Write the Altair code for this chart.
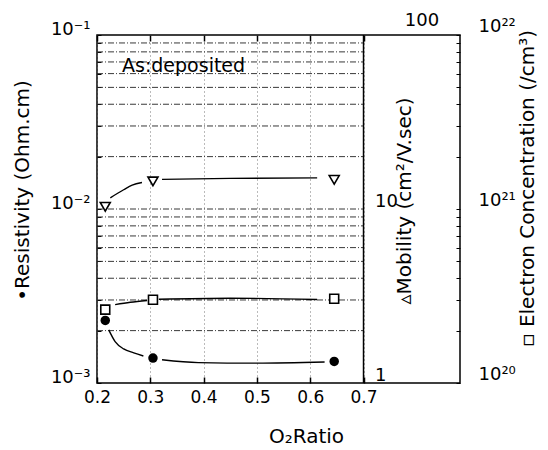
import altair as alt
import pandas as pd

# ---------------- data ----------------
o2_ratio = [0.2155, 0.305, 0.645]
resistivity = [2.29e-3, 1.39e-3, 1.33e-3]      # Ohm.cm
mobility = [10.3, 14.4, 14.7]                  # cm2/V.sec
concentration = [2.64e20, 3.01e20, 3.05e20]    # /cm3

# hand-drawn fit curves (two segments each)
rho_fit1_x = [0.222, 0.234, 0.250, 0.269, 0.287]
rho_fit1_y = [2.02e-3, 1.73e-3, 1.57e-3, 1.49e-3, 1.43e-3]
rho_fit2_x = [0.322, 0.39, 0.50, 0.627]
rho_fit2_y = [1.36e-3, 1.31e-3, 1.30e-3, 1.32e-3]

mob_fit1_x = [0.225, 0.25, 0.266, 0.2844]
mob_fit1_y = [11.6, 12.9, 13.7, 14.2]
mob_fit2_x = [0.322, 0.45, 0.613]
mob_fit2_y = [14.8, 15.0, 15.1]

conc_fit1_x = [0.234, 0.2625, 0.294]
conc_fit1_y = [2.82e20, 2.91e20, 2.98e20]
conc_fit2_x = [0.316, 0.45, 0.613]
conc_fit2_y = [3.03e20, 3.07e20, 3.02e20]

x_ticks = [0.2, 0.3, 0.4, 0.5, 0.6, 0.7]
log_ticks = [0.001, 0.002, 0.003, 0.004, 0.005, 0.006, 0.007, 0.008, 0.009,
             0.01, 0.02, 0.03, 0.04, 0.05, 0.06, 0.07, 0.08, 0.09, 0.1]
grid_levels = [0.002, 0.003, 0.004, 0.005, 0.006, 0.007, 0.008, 0.009,
               0.01, 0.02, 0.03, 0.04, 0.05, 0.06, 0.07, 0.08, 0.09]
mobility_top_label = ["100"]
mobility_top_value = [100]
mobility_labels = ["10", "1"]
mobility_label_values = [10, 1]

# all three log axes share the same decade positions
MOB_TO_AXIS = 1e-3     # mobility 1   -> 1e-3 on the resistivity scale
CONC_TO_AXIS = 1e-23   # conc.   1e20 -> 1e-3 on the resistivity scale

FONT = "DejaVu Sans"
W, H = 363, 348
X_MAX = 0.881   # right edge of the mobility box

xscale = alt.Scale(domain=[0.2, X_MAX], nice=False, zero=False)
yscale = alt.Scale(type="log", domain=[1e-3, 1e-1], nice=False)

# ---------------- tables ----------------
grid_df = pd.DataFrame({"level": grid_levels, "x0": 0.2, "x1": 0.7})
one_row = pd.DataFrame({"k": [0]})

pts = pd.DataFrame({
    "x": o2_ratio * 3,
    "y": resistivity + [m * MOB_TO_AXIS for m in mobility] + [c * CONC_TO_AXIS for c in concentration],
    "series": ["rho"] * 3 + ["mob"] * 3 + ["conc"] * 3,
})

curve_rows = []
for name, xs, ys, f in [
    ("rho1", rho_fit1_x, rho_fit1_y, 1.0), ("rho2", rho_fit2_x, rho_fit2_y, 1.0),
    ("mob1", mob_fit1_x, mob_fit1_y, MOB_TO_AXIS), ("mob2", mob_fit2_x, mob_fit2_y, MOB_TO_AXIS),
    ("conc1", conc_fit1_x, conc_fit1_y, CONC_TO_AXIS), ("conc2", conc_fit2_x, conc_fit2_y, CONC_TO_AXIS),
]:
    for xv, yv in zip(xs, ys):
        curve_rows.append({"x": xv, "y": yv * f, "seg": name})
curves = pd.DataFrame(curve_rows)

mob_lab_df = pd.DataFrame({"label": mobility_labels,
                           "y": [v * MOB_TO_AXIS for v in mobility_label_values]})
mob_top_df = pd.DataFrame({"label": mobility_top_label,
                           "y": [v * MOB_TO_AXIS for v in mobility_top_value]})

left_expr = ("abs(datum.value-0.1)<1e-9 ? '10⁻¹' : abs(datum.value-0.01)<1e-9 ? '10⁻²' : "
             "abs(datum.value-0.001)<1e-9 ? '10⁻³' : ''")
right_expr = ("abs(datum.value-0.1)<1e-9 ? '10²²' : abs(datum.value-0.01)<1e-9 ? '10²¹' : "
              "abs(datum.value-0.001)<1e-9 ? '10²⁰' : ''")

# ---------------- layers ----------------
grid = alt.Chart(grid_df).mark_rule(color="#222", strokeWidth=0.9, strokeDash=[6, 2, 1, 2]).encode(
    x=alt.X("x0:Q", scale=xscale, axis=alt.Axis(
        orient="bottom", values=x_ticks, format=".1f", domain=False,
        tickSize=alt.ExprRef(expr="-6"), tickColor="black", tickWidth=1.5,
        labelPadding=12, labelFlush=False, labelFontSize=17, labelFont=FONT, labelColor="black",
        grid=True, gridDash=[1, 3], gridColor="#666", gridWidth=0.9,
        title="O₂Ratio", titleFont=FONT, titleFontSize=20, titleFontWeight="normal",
        titleColor="black", titleX=209, titleY=59, titleAlign="center", titleBaseline="alphabetic")),
    x2="x1:Q",
    y=alt.Y("level:Q", scale=yscale, axis=alt.Axis(
        orient="left", values=log_ticks, labelExpr=left_expr, domain=False, grid=False,
        tickSize=alt.ExprRef(expr="-4"), tickColor="black", tickWidth=1,
        labelPadding=11, labelOverlap=False, labelFlush=False, labelFontSize=18, labelFont=FONT,
        labelColor="black", labelBaseline="alphabetic", labelOffset=-1,
        title="•Resistivity (Ohm.cm)", titleFont=FONT, titleFontSize=20, titleFontWeight="normal",
        titleColor="black", titleAngle=270, titleX=-75, titleY=155,
        titleAlign="center", titleBaseline="middle")),
)

divider = alt.Chart(one_row).mark_rule(color="black", strokeWidth=1.5).encode(
    x=alt.XDatum(0.7, type="quantitative", scale=xscale, axis=alt.Axis(
        orient="top", values=x_ticks, labels=False, domain=False, grid=False,
        tickSize=alt.ExprRef(expr="-6"), tickColor="black", tickWidth=1.5, title=None)),
)

lines = alt.Chart(curves).mark_line(color="black", strokeWidth=1.4, interpolate="monotone").encode(
    x=alt.X("x:Q", scale=xscale, axis=None),
    y=alt.Y("y:Q", scale=yscale, axis=None),
    detail="seg:N",
)

rho_pts = alt.Chart(pts).transform_filter("datum.series == 'rho'").mark_point(
    shape="circle", filled=True, color="black", size=90, opacity=1).encode(
    x=alt.X("x:Q", scale=xscale, axis=None),
    y=alt.Y("y:Q", scale=yscale, axis=None),
)

mob_pts = alt.Chart(pts).transform_filter("datum.series == 'mob'").mark_point(
    shape="triangle-down", filled=False, fill="white", fillOpacity=1, stroke="black",
    strokeWidth=1.6, size=100, opacity=1).encode(
    x=alt.X("x:Q", scale=xscale, axis=None),
    y=alt.Y("y:Q", scale=yscale, axis=None),
)

conc_pts = alt.Chart(pts).transform_filter("datum.series == 'conc'").mark_point(
    shape="square", filled=False, fill="white", fillOpacity=1, stroke="black",
    strokeWidth=1.6, size=80, opacity=1).encode(
    x=alt.X("x:Q", scale=xscale, axis=None),
    y=alt.Y("y:Q", scale=yscale, axis=alt.Axis(
        orient="right", values=log_ticks, labelExpr=right_expr, domain=False, grid=False,
        tickSize=alt.ExprRef(expr="-4"), tickColor="black", tickWidth=1,
        labelPadding=22, labelOverlap=False, labelFlush=False, labelFontSize=18, labelFont=FONT,
        labelColor="black", labelAlign="left", labelBaseline="alphabetic", labelOffset=-4,
        title="▫ Electron Concentration (/cm³)", titleFont=FONT, titleFontSize=20,
        titleFontWeight="normal", titleColor="black", titleAngle=270, titleX=67, titleY=153,
        titleAlign="center", titleBaseline="middle")),
)

mob_labels = alt.Chart(mob_lab_df).mark_text(
    align="left", baseline="alphabetic", dy=-2, font=FONT, fontSize=18, color="black").encode(
    x=alt.value(278),
    y=alt.Y("y:Q", scale=yscale, axis=None),
    text="label:N",
)

mob_top = alt.Chart(mob_top_df).mark_text(
    align="center", baseline="alphabetic", dy=-9, font=FONT, fontSize=18, color="black").encode(
    x=alt.value(325),
    y=alt.Y("y:Q", scale=yscale, axis=None),
    text="label:N",
)

mob_title = alt.Chart(one_row).mark_text(
    text="▵Mobility (cm²/V.sec)", angle=270, align="center", baseline="middle",
    font=FONT, fontSize=20, color="black").encode(x=alt.value(308), y=alt.value(166))

note = alt.Chart(one_row).mark_text(
    text="As:deposited", align="left", baseline="alphabetic",
    font=FONT, fontSize=19, color="black").encode(x=alt.value(25), y=alt.value(37))

chart = alt.layer(
    grid, divider, lines, rho_pts, mob_pts, conc_pts, mob_labels, mob_top, mob_title, note
).resolve_scale(x="shared", y="shared").resolve_axis(x="independent", y="independent").properties(
    width=W, height=H,
    autosize=alt.AutoSizeParams(type="none"),
    padding={"left": 97, "top": 35, "right": 88, "bottom": 67},
    background="white",
).configure_view(stroke="black", strokeWidth=1.5)

chart.save("out.html", embed_options={"renderer": "svg", "actions": False})
